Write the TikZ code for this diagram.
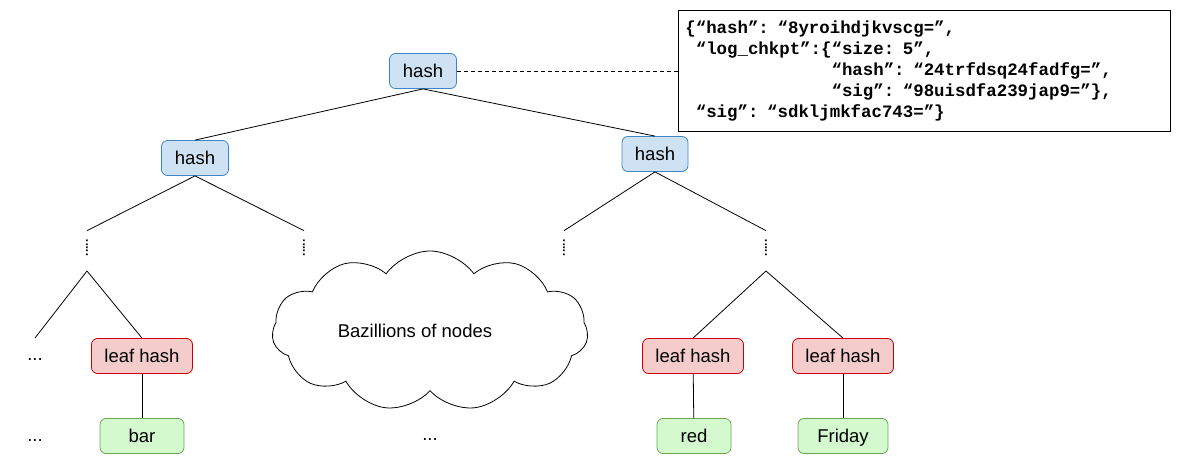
\documentclass[tikz,border=0pt]{standalone}
\usepackage{fontspec}
\setmainfont{Liberation Sans}
\newfontfamily\jsonfont{Liberation Mono}
\usetikzlibrary{shapes.symbols,positioning}
\definecolor{hashBlue}{HTML}{CFE2F3}
\definecolor{hashBlueLine}{HTML}{3D85C6}
\definecolor{leafRed}{HTML}{F4CCCC}
\definecolor{leafRedLine}{HTML}{CC0000}
\definecolor{valGreen}{HTML}{D4F9CF}
\definecolor{valGreenLine}{HTML}{6AA84F}
\tikzset{
  tbox/.style={draw,rounded corners=6pt,line width=0.8pt,inner sep=0pt,
    font=\fontsize{18.5}{22}\selectfont,text height=14.5pt,text depth=1pt,minimum height=35pt},
  thash/.style={tbox,fill=hashBlue,draw=hashBlueLine,minimum width=67pt},
  tleaf/.style={tbox,fill=leafRed,draw=leafRedLine,minimum width=101pt},
  tval/.style={tbox,fill=valGreen,draw=valGreenLine},
  tdots/.style={font=\bfseries\fontsize{12}{12}\selectfont,inner sep=0pt,outer sep=9pt},
  tmore/.style={font=\fontsize{18.5}{22}\selectfont,anchor=base,inner sep=0pt},
  tedge/.style={line width=0.8pt},
  tdash/.style={tedge,dash pattern=on 4pt off 3pt},
}
\begin{document}
\begin{tikzpicture}[x=1pt,y=-1pt]
\useasboundingbox (0,0) rectangle (1179,462);
\node[thash] (root) at (423,71) {hash};
\node[thash] (hL) at (195,158) {hash};
\node[thash,minimum width=66pt] (hR) at (655,154) {hash};
\node[tdots] (d1) at (87,248) {\rotatebox{90}{.....}};
\node[tdots] (d2) at (304,248) {\rotatebox{90}{.....}};
\node[tdots] (d3) at (564,248) {\rotatebox{90}{.....}};
\node[tdots] (d4) at (766,248) {\rotatebox{90}{.....}};
\coordinate (aL) at (87,271);
\coordinate (aR) at (766,271);
\coordinate (eL) at (35,338);
\node[tleaf] (lf1) at (142,356) {leaf hash};
\node[tleaf] (lf2) at (693,356) {leaf hash};
\node[tleaf] (lf3) at (843,356) {leaf hash};
\node[tval,minimum width=84pt] (v1) at (142,436) {bar};
\node[tval,minimum width=74pt] (v2) at (694,436) {red};
\node[tval,minimum width=90pt] (v3) at (843,436) {Friday};
\node[tmore] (m1) at (35,361) {...};
\node[tmore] (m2) at (35,442) {...};
\node[tmore] (m3) at (430,441) {...};
\node[cloud,draw,line width=0.8pt,cloud puffs=11,cloud puff arc=110,aspect=2.2,
  minimum width=316pt,minimum height=160pt,font=\fontsize{18.5}{22}\selectfont]
  (cl) at (430,331) {Bazillions of nodes\hspace*{30pt}};
\node[draw,line width=0.8pt,anchor=north west,minimum width=492pt,minimum height=121pt,
  inner xsep=7pt,text width=478pt,align=left,
  font=\jsonfont\bfseries\fontsize{17.4}{21}\selectfont] (json) at (678,10)
  {\{“hash”: “8yroihdjkvscg=”,\\
   \hspace*{0.6em}“log\_chkpt”:\{“size: 5”,\\
   \hspace*{8.4em}“hash”: “24trfdsq24fadfg=”,\\
   \hspace*{8.4em}“sig”: “98uisdfa239jap9=”\},\\
   \hspace*{0.6em}“sig”: “sdkljmkfac743=”\}};
\draw[tdash] (root.east) -- (root.east -| json.west);
\draw[tedge] (root.south) -- (hL.north);
\draw[tedge] (root.south) -- (hR.north);
\draw[tedge] (hL.south) -- (d1.north);
\draw[tedge] (hL.south) -- (d2.north);
\draw[tedge] (hR.south) -- (d3.north);
\draw[tedge] (hR.south) -- (d4.north);
\draw[tedge] (aL) -- (eL);
\draw[tedge] (aL) -- (lf1.north);
\draw[tedge] (aR) -- (lf2.north);
\draw[tedge] (aR) -- (lf3.north);
\draw[tedge] (lf1) -- (v1);
\draw[tedge] (lf2) -- (v2);
\draw[tedge] (lf3) -- (v3);
\end{tikzpicture}
\end{document}
